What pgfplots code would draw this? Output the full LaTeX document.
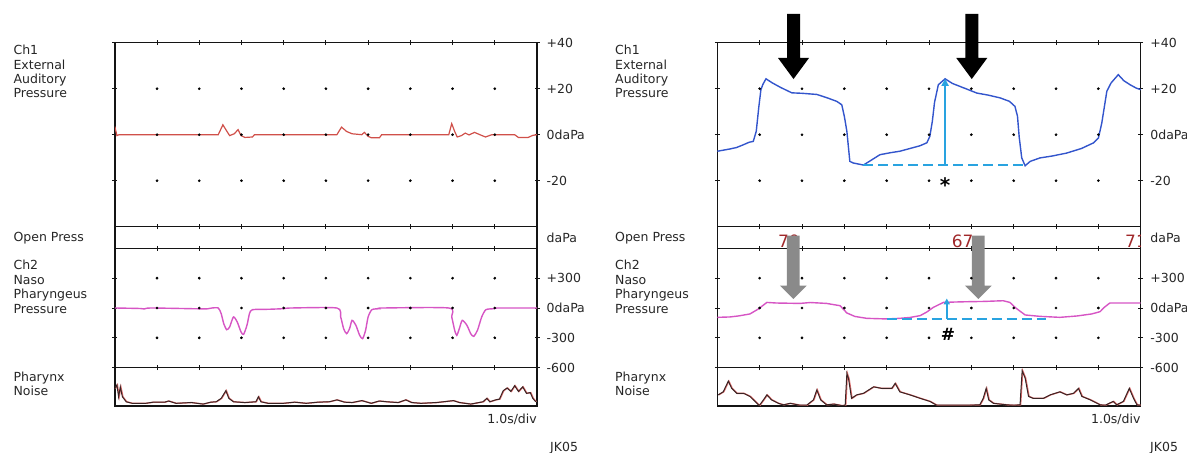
\documentclass[border=0pt]{standalone}
\usepackage{fontspec}
\setmainfont{DejaVu Sans}
\usepackage{pgfplots}
\usepackage{pgfplotstable}
\pgfplotsset{compat=1.18}
\usetikzlibrary{arrows.meta}

\definecolor{frame}{HTML}{141414}
\definecolor{chred}{HTML}{D0504A}
\definecolor{chblue}{HTML}{3355CC}
\definecolor{chpink}{HTML}{D655C4}
\definecolor{noisec}{HTML}{3A2424}
\definecolor{noisered}{HTML}{E07070}
\definecolor{annblue}{HTML}{29A3E0}
\definecolor{numred}{HTML}{A0282A}
\definecolor{arrgray}{HTML}{8A8A8A}
\definecolor{txt}{HTML}{262626}

\newcommand{\lblfont}{\fontsize{12.5bp}{14.4bp}\selectfont}

\pgfplotstableread{
x y
1 -20
2 -20
3 -20
4 -20
5 -20
6 -20
7 -20
8 -20
9 -20
1 0
2 0
3 0
4 0
5 0
6 0
7 0
8 0
9 0
1 20
2 20
3 20
4 20
5 20
6 20
7 20
8 20
9 20
}\dotsone

\pgfplotstableread{
x y
1 -300
2 -300
3 -300
4 -300
5 -300
6 -300
7 -300
8 -300
9 -300
1 0
2 0
3 0
4 0
5 0
6 0
7 0
8 0
9 0
1 300
2 300
3 300
4 300
5 300
6 300
7 300
8 300
9 300
}\dotstwo

\pgfplotsset{
 panel/.style={scale only axis, xmin=0, xmax=10,
   axis line style={frame, line width=1.5bp},
   xtick={1,2,3,4,5,6,7,8,9}, xticklabels={}, tick align=center,
   major tick length=5bp,
   tick style={frame, line width=0.9bp}, yticklabel pos=right,
   yticklabel style={font=\lblfont, anchor=west, inner sep=0pt, xshift=7bp, text=txt}},
 ch1/.style={panel, height=184bp, ymin=-40, ymax=40, ytick={-20,0,20,40},
   yticklabels={-20,0daPa,+20,+40}},
 opn/.style={panel, height=21.6bp, ymin=0, ymax=1, ytick={0.5},
   yticklabels={daPa}, ytick style={draw=none}},
 ch2/.style={panel, height=119.4bp, ymin=-600, ymax=600, ytick={-600,-300,0,300},
   yticklabels={-600,-300,0daPa,+300}},
 noi/.style={panel, height=38.3bp, ymin=0, ymax=1, ytick=\empty, xtick=\empty},
 dts/.style={only marks, mark=*, mark size=1.15bp, black},
}

\begin{document}
\begin{tikzpicture}
\path[use as bounding box] (0,0) rectangle (1187bp,453bp);

% ---------- text labels ----------
\foreach \xx in {13.4,615}{
\node[anchor=north west, align=left, inner sep=0pt, font=\lblfont, text=txt] at (\xx bp,408bp) {Ch1\\External\\Auditory\\Pressure};
\node[anchor=north west, align=left, inner sep=0pt, font=\lblfont, text=txt] at (\xx bp,221.3bp) {Open Press};
\node[anchor=north west, align=left, inner sep=0pt, font=\lblfont, text=txt] at (\xx bp,192.8bp) {Ch2\\Naso\\Pharyngeus\\Pressure};
\node[anchor=north west, align=left, inner sep=0pt, font=\lblfont, text=txt] at (\xx bp,81.3bp) {Pharynx\\Noise};
}
\node[anchor=base east, inner sep=0pt, font=\lblfont, text=txt] at (537bp,29.5bp) {1.0s/div};
\node[anchor=base east, inner sep=0pt, font=\lblfont, text=txt] at (1140.7bp,29.5bp) {1.0s/div};
\node[anchor=base west, inner sep=0pt, font=\lblfont, text=txt] at (550bp,1.8bp) {JK05};
\node[anchor=base west, inner sep=0pt, font=\lblfont, text=txt] at (1150bp,1.2bp) {JK05};

% =================== LEFT PANEL ===================
\begin{axis}[ch1, width=422.2bp, at={(114.8bp,410.3bp)}, anchor=north west]
\addplot[dts] table {\dotsone};
\addplot[chred, mark=none, line width=1.2bp] coordinates {
(0,3.6) (0.05,-0.4) (0.1,0) (2.45,0) (2.56,4.3) (2.63,2.2) (2.72,-0.4) (2.83,0.4)
(2.92,2.2) (2.99,-0.4) (3.08,-1.2) (3.26,-1.0) (3.31,0) (5.26,0) (5.37,3.3)
(5.49,1.4) (5.62,0.4) (5.85,0) (5.91,1.0) (6.0,-0.7) (6.07,-1.3) (6.27,-1.3)
(6.32,0) (7.91,0) (7.98,4.8) (8.05,1.4) (8.11,-1.0) (8.21,-0.4) (8.30,0.7)
(8.39,-0.1) (8.52,1.0) (8.66,-0.1) (8.78,-1.0) (8.93,0) (9.47,0) (9.56,-1.2)
(9.79,-1.2) (9.90,-0.3) (10,0)};
\end{axis}

\begin{axis}[opn, width=422.2bp, at={(114.8bp,226.3bp)}, anchor=north west]
\end{axis}

\begin{axis}[ch2, width=422.2bp, at={(114.8bp,204.7bp)}, anchor=north west]
\addplot[dts] table {\dotstwo};
\addplot[chpink, mark=none, line width=1.4bp, smooth, tension=0.4] coordinates {
(0,0) (0.6,-5) (0.7,-10) (0.85,0) (1.95,-8) (2.2,-8) (2.3,0) (2.45,0)
(2.52,-57) (2.58,-157) (2.65,-218) (2.72,-191) (2.81,-90) (2.90,-141)
(2.99,-241) (3.05,-265) (3.13,-174) (3.19,-57) (3.26,-17) (3.63,-13)
(3.99,-7) (4.17,0) (5.26,0) (5.35,-90) (5.42,-208) (5.49,-258) (5.56,-208)
(5.62,-124) (5.71,-174) (5.80,-275) (5.87,-308) (5.94,-224) (6.00,-90)
(6.09,-17) (6.26,-7) (6.35,0) (7.91,0) (7.98,-90) (8.05,-224) (8.10,-275)
(8.16,-208) (8.23,-124) (8.34,-174) (8.43,-258) (8.50,-285) (8.59,-224)
(8.69,-90) (8.79,-17) (8.98,-7) (9.07,0) (10,0)};
\end{axis}

\begin{axis}[noi, width=422.2bp, at={(114.8bp,85.3bp)}, anchor=north west]
\addplot[noisered, mark=none, line width=1.3bp, xshift=0.6bp] coordinates {
(0,0.45) (0.05,0.55) (0.09,0.24) (0.13,0.50) (0.18,0.24) (0.27,0.11) (0.41,0.07)
(0.73,0.07) (0.91,0.10) (1.18,0.10) (1.27,0.13) (1.45,0.07) (1.81,0.09)
(2.09,0.05) (2.27,0.10) (2.40,0.11) (2.52,0.20) (2.63,0.40) (2.70,0.20)
(2.81,0.11) (3.08,0.09) (3.34,0.11) (3.40,0.24) (3.46,0.11) (3.63,0.07)
(3.99,0.07) (4.26,0.10) (4.53,0.07) (4.81,0.10) (5.08,0.11) (5.26,0.16)
(5.44,0.10) (5.62,0.09) (5.85,0.14) (6.07,0.07) (6.26,0.13) (6.44,0.11)
(6.71,0.09) (6.89,0.16) (7.03,0.09) (7.25,0.07) (7.62,0.09) (8.02,0.14)
(8.16,0.09) (8.43,0.05) (8.72,0.11) (8.81,0.20) (8.88,0.11) (9.02,0.16)
(9.11,0.18) (9.20,0.40) (9.29,0.47) (9.38,0.38) (9.47,0.53) (9.56,0.38)
(9.66,0.50) (9.75,0.33) (9.84,0.35) (9.90,0.20) (9.97,0.11)};
\addplot[noisec, mark=none, line width=1.0bp] coordinates {
(0,0.45) (0.05,0.55) (0.09,0.24) (0.13,0.50) (0.18,0.24) (0.27,0.11) (0.41,0.07)
(0.73,0.07) (0.91,0.10) (1.18,0.10) (1.27,0.13) (1.45,0.07) (1.81,0.09)
(2.09,0.05) (2.27,0.10) (2.40,0.11) (2.52,0.20) (2.63,0.40) (2.70,0.20)
(2.81,0.11) (3.08,0.09) (3.34,0.11) (3.40,0.24) (3.46,0.11) (3.63,0.07)
(3.99,0.07) (4.26,0.10) (4.53,0.07) (4.81,0.10) (5.08,0.11) (5.26,0.16)
(5.44,0.10) (5.62,0.09) (5.85,0.14) (6.07,0.07) (6.26,0.13) (6.44,0.11)
(6.71,0.09) (6.89,0.16) (7.03,0.09) (7.25,0.07) (7.62,0.09) (8.02,0.14)
(8.16,0.09) (8.43,0.05) (8.72,0.11) (8.81,0.20) (8.88,0.11) (9.02,0.16)
(9.11,0.18) (9.20,0.40) (9.29,0.47) (9.38,0.38) (9.47,0.53) (9.56,0.38)
(9.66,0.50) (9.75,0.33) (9.84,0.35) (9.90,0.20) (9.97,0.11)};
\end{axis}

% =================== RIGHT PANEL ===================
\begin{axis}[ch1, width=423.4bp, at={(717.3bp,410.3bp)}, anchor=north west, clip=false]
\addplot[dts] table {\dotsone};
\addplot[chblue, mark=none, line width=1.4bp] coordinates {
(0,-7.2) (0.3,-6.2) (0.45,-5.6) (0.6,-4.5) (0.75,-3.3) (0.85,-2.9) (0.92,1.5)
(0.98,12) (1.03,19.6) (1.08,22) (1.15,24.3) (1.3,22.5) (1.5,20.5) (1.76,18.2)
(2.0,18.0) (2.35,17.5) (2.6,16) (2.82,14.5) (2.94,13) (3.0,8) (3.06,1.5)
(3.10,-6) (3.13,-11.6) (3.21,-12.3) (3.45,-13.2) (3.6,-11.5) (3.84,-8.7)
(4.1,-7.8) (4.31,-7.2) (4.55,-6) (4.79,-4.8) (4.95,-3.5) (5.02,-0.7) (5.08,6)
(5.13,14) (5.22,21.7) (5.38,24.3) (5.55,22.3) (5.73,21) (6.13,18.1) (6.4,17.2)
(6.68,16) (6.9,14.5) (7.03,12.3) (7.09,8) (7.13,-1) (7.19,-10.1) (7.27,-13.5)
(7.39,-11.6) (7.62,-10.1) (7.9,-9.3) (8.25,-8) (8.6,-6) (8.88,-3.6) (9.0,-1.5)
(9.08,5) (9.2,18.9) (9.3,22.5) (9.47,26.1) (9.6,23.5) (9.75,21.7) (9.9,20.2)
(10,19.6)};
\draw[annblue, line width=2.2bp, dash pattern=on 10bp off 5bp] (axis cs:3.45,-13.2) -- (axis cs:7.27,-13.2);
\draw[annblue, line width=2bp, -{Triangle[length=7bp,width=7bp]}] (axis cs:5.38,-13.2) -- (axis cs:5.38,24.3);
\node[font=\bfseries\fontsize{20bp}{20bp}\selectfont, inner sep=0pt] at (axis cs:5.38,-21.8) {*};
\fill[black] (axis cs:1.647,52.5) -- (axis cs:1.953,52.5) -- (axis cs:1.953,33.35)
  -- (axis cs:2.166,33.35) -- (axis cs:1.80,24.2) -- (axis cs:1.434,33.35)
  -- (axis cs:1.647,33.35) -- cycle;
\fill[black] (axis cs:5.857,52.5) -- (axis cs:6.164,52.5) -- (axis cs:6.164,33.35)
  -- (axis cs:6.376,33.35) -- (axis cs:6.01,24.2) -- (axis cs:5.644,33.35)
  -- (axis cs:5.857,33.35) -- cycle;
\end{axis}

\begin{axis}[opn, width=423.4bp, at={(717.3bp,226.3bp)}, anchor=north west]
\node[anchor=base west, inner sep=0pt, text=numred, font=\fontsize{17bp}{17bp}\selectfont] at (axis cs:1.43,0.05) {70};
\node[anchor=base west, inner sep=0pt, text=numred, font=\fontsize{17bp}{17bp}\selectfont] at (axis cs:5.536,0.05) {67};
\node[anchor=base west, inner sep=0pt, text=numred, font=\fontsize{17bp}{17bp}\selectfont] at (axis cs:9.63,0.05) {71};
\end{axis}

\begin{axis}[ch2, width=423.4bp, at={(717.3bp,204.7bp)}, anchor=north west, clip=false]
\addplot[dts] table {\dotstwo};
\addplot[chpink, mark=none, line width=1.4bp] coordinates {
(0,-94) (0.3,-90) (0.5,-80) (0.77,-60) (0.97,-10) (1.17,56) (1.4,50) (1.95,46)
(2.2,55) (2.58,46) (2.9,23) (3.06,-50) (3.25,-85) (3.53,-104) (4.0,-110)
(4.31,-104) (4.55,-95) (4.79,-77) (4.95,-40) (5.1,6) (5.34,56) (5.6,60)
(5.89,63) (6.3,66) (6.75,73) (6.91,56) (7.05,0) (7.27,-70) (7.62,-84)
(8.09,-94) (8.5,-80) (8.84,-60) (9.04,-37) (9.15,10) (9.27,50) (10,50)};
\draw[annblue, line width=2.2bp, dash pattern=on 10bp off 5bp] (axis cs:4.0,-110) -- (axis cs:7.77,-110);
\draw[annblue, line width=1.8bp, -{Triangle[length=6bp,width=6bp]}] (axis cs:5.42,-110) -- (axis cs:5.42,96);
\node[font=\bfseries\fontsize{17bp}{17bp}\selectfont, inner sep=0pt] at (axis cs:5.45,-261) {\#};
\fill[arrgray] (axis cs:1.645,726.6) -- (axis cs:1.945,726.6) -- (axis cs:1.945,224)
  -- (axis cs:2.11,224) -- (axis cs:1.795,90.5) -- (axis cs:1.48,224)
  -- (axis cs:1.645,224) -- cycle;
\fill[arrgray] (axis cs:6.014,726.6) -- (axis cs:6.314,726.6) -- (axis cs:6.314,224)
  -- (axis cs:6.479,224) -- (axis cs:6.164,90.5) -- (axis cs:5.849,224)
  -- (axis cs:6.014,224) -- cycle;
\end{axis}

\begin{axis}[noi, width=423.4bp, at={(717.3bp,85.3bp)}, anchor=north west]
\addplot[noisered, mark=none, line width=1.3bp, xshift=0.6bp] coordinates {
(0.02,0.29) (0.14,0.37) (0.26,0.65) (0.34,0.46) (0.46,0.33) (0.62,0.33)
(0.77,0.25) (0.89,0.12) (0.99,0.01) (1.09,0.16) (1.17,0.29) (1.28,0.16)
(1.44,0.07) (1.56,0.03) (1.72,0.07) (1.95,0.02) (2.11,0.02) (2.27,0.16)
(2.35,0.42) (2.44,0.16) (2.58,0.03) (2.75,0.05) (2.94,0.01) (3.02,0.02)
(3.06,0.85) (3.10,0.71) (3.17,0.20) (3.29,0.29) (3.45,0.33) (3.69,0.50)
(3.88,0.46) (4.12,0.46) (4.20,0.59) (4.31,0.37) (4.55,0.29) (4.79,0.20)
(5.02,0.12) (5.18,0.02) (5.5,0.02) (5.89,0.02) (6.2,0.03) (6.28,0.20)
(6.35,0.46) (6.41,0.16) (6.52,0.07) (6.84,0.03) (6.99,0.02) (7.15,0.03)
(7.20,0.92) (7.27,0.73) (7.35,0.25) (7.46,0.20) (7.7,0.20) (7.86,0.29)
(8.09,0.37) (8.25,0.29) (8.41,0.33) (8.53,0.46) (8.61,0.25) (8.81,0.16)
(9.04,0.03) (9.16,0.02) (9.35,0.12) (9.43,0.03) (9.59,0.12) (9.73,0.46)
(9.83,0.20) (9.91,0.03) (10,0.02)};
\addplot[noisec, mark=none, line width=1.0bp] coordinates {
(0.02,0.29) (0.14,0.37) (0.26,0.65) (0.34,0.46) (0.46,0.33) (0.62,0.33)
(0.77,0.25) (0.89,0.12) (0.99,0.01) (1.09,0.16) (1.17,0.29) (1.28,0.16)
(1.44,0.07) (1.56,0.03) (1.72,0.07) (1.95,0.02) (2.11,0.02) (2.27,0.16)
(2.35,0.42) (2.44,0.16) (2.58,0.03) (2.75,0.05) (2.94,0.01) (3.02,0.02)
(3.06,0.85) (3.10,0.71) (3.17,0.20) (3.29,0.29) (3.45,0.33) (3.69,0.50)
(3.88,0.46) (4.12,0.46) (4.20,0.59) (4.31,0.37) (4.55,0.29) (4.79,0.20)
(5.02,0.12) (5.18,0.02) (5.5,0.02) (5.89,0.02) (6.2,0.03) (6.28,0.20)
(6.35,0.46) (6.41,0.16) (6.52,0.07) (6.84,0.03) (6.99,0.02) (7.15,0.03)
(7.20,0.92) (7.27,0.73) (7.35,0.25) (7.46,0.20) (7.7,0.20) (7.86,0.29)
(8.09,0.37) (8.25,0.29) (8.41,0.33) (8.53,0.46) (8.61,0.25) (8.81,0.16)
(9.04,0.03) (9.16,0.02) (9.35,0.12) (9.43,0.03) (9.59,0.12) (9.73,0.46)
(9.83,0.20) (9.91,0.03) (10,0.02)};
\end{axis}
\end{tikzpicture}
\end{document}
